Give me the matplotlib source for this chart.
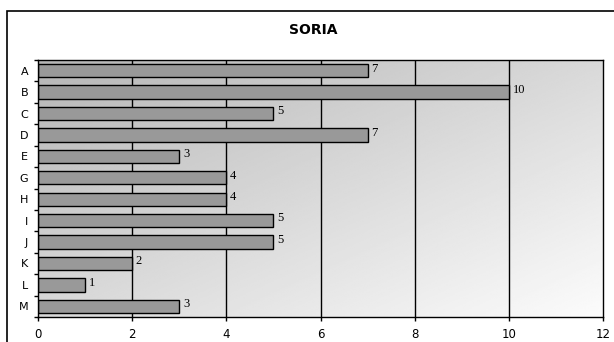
import numpy as np
import matplotlib
matplotlib.use("Agg")
import matplotlib.pyplot as plt
from matplotlib.patches import Rectangle

categories = ["A", "B", "C", "D", "E", "G", "H", "I", "J", "K", "L", "M"]
values = [7, 10, 5, 7, 3, 4, 4, 5, 5, 2, 1, 3]
x_ticks = [0, 2, 4, 6, 8, 10, 12]

fig = plt.figure(figsize=(6.14, 3.42), dpi=100)
fig.patch.set_facecolor("white")

# outer chart frame
fig.patches.append(Rectangle((7 / 614, -0.05), 1.0, 1 - 11 / 342 + 0.05,
                             transform=fig.transFigure, fill=False,
                             edgecolor="black", linewidth=1.2))

ax = fig.add_axes([38 / 614, 1 - 317 / 342, (603 - 38) / 614, (317 - 60) / 342])

n = len(categories)
ax.set_xlim(0, 12)
ax.set_ylim(n - 0.5, -0.5)

# diagonal gray gradient background
gx, gy = np.meshgrid(np.linspace(0, 1, 200), np.linspace(0, 1, 200))
grad = (gx + gy) / 2
ax.imshow(grad, extent=[0, 12, n - 0.5, -0.5], cmap="gray", vmin=-2.6, vmax=1.05,
          aspect="auto", zorder=0, interpolation="bilinear")

for xv in x_ticks[1:-1]:
    ax.axvline(xv, color="black", linewidth=1.0, zorder=1)

y = np.arange(n)
ax.barh(y, values, height=0.62, color="#999999", edgecolor="black",
        linewidth=1.0, zorder=2)

for yi, v in zip(y, values):
    ax.text(v + 0.08, yi - 0.1, str(v), va="center", ha="left",
            fontsize=9, family="Liberation Serif", zorder=3)

ax.set_yticks(y)
ax.set_yticklabels(categories, fontsize=8)
ax.set_yticks(np.arange(n + 1) - 0.5, minor=True)
ax.tick_params(axis="y", which="major", length=0, pad=7)
ax.tick_params(axis="y", which="minor", length=3, width=1.0)
ax.set_xticks(x_ticks)
ax.set_xticklabels([str(t) for t in x_ticks], fontsize=8.5)
ax.tick_params(axis="x", length=3, width=1.0, pad=5)

for s in ax.spines.values():
    s.set_linewidth(1.0)
    s.set_color("black")

fig.text(313 / 614, 1 - 30 / 342, "SORIA", ha="center", va="center",
         fontsize=10, fontweight="bold", family="DejaVu Sans")

fig.savefig("out.png", dpi=100)
